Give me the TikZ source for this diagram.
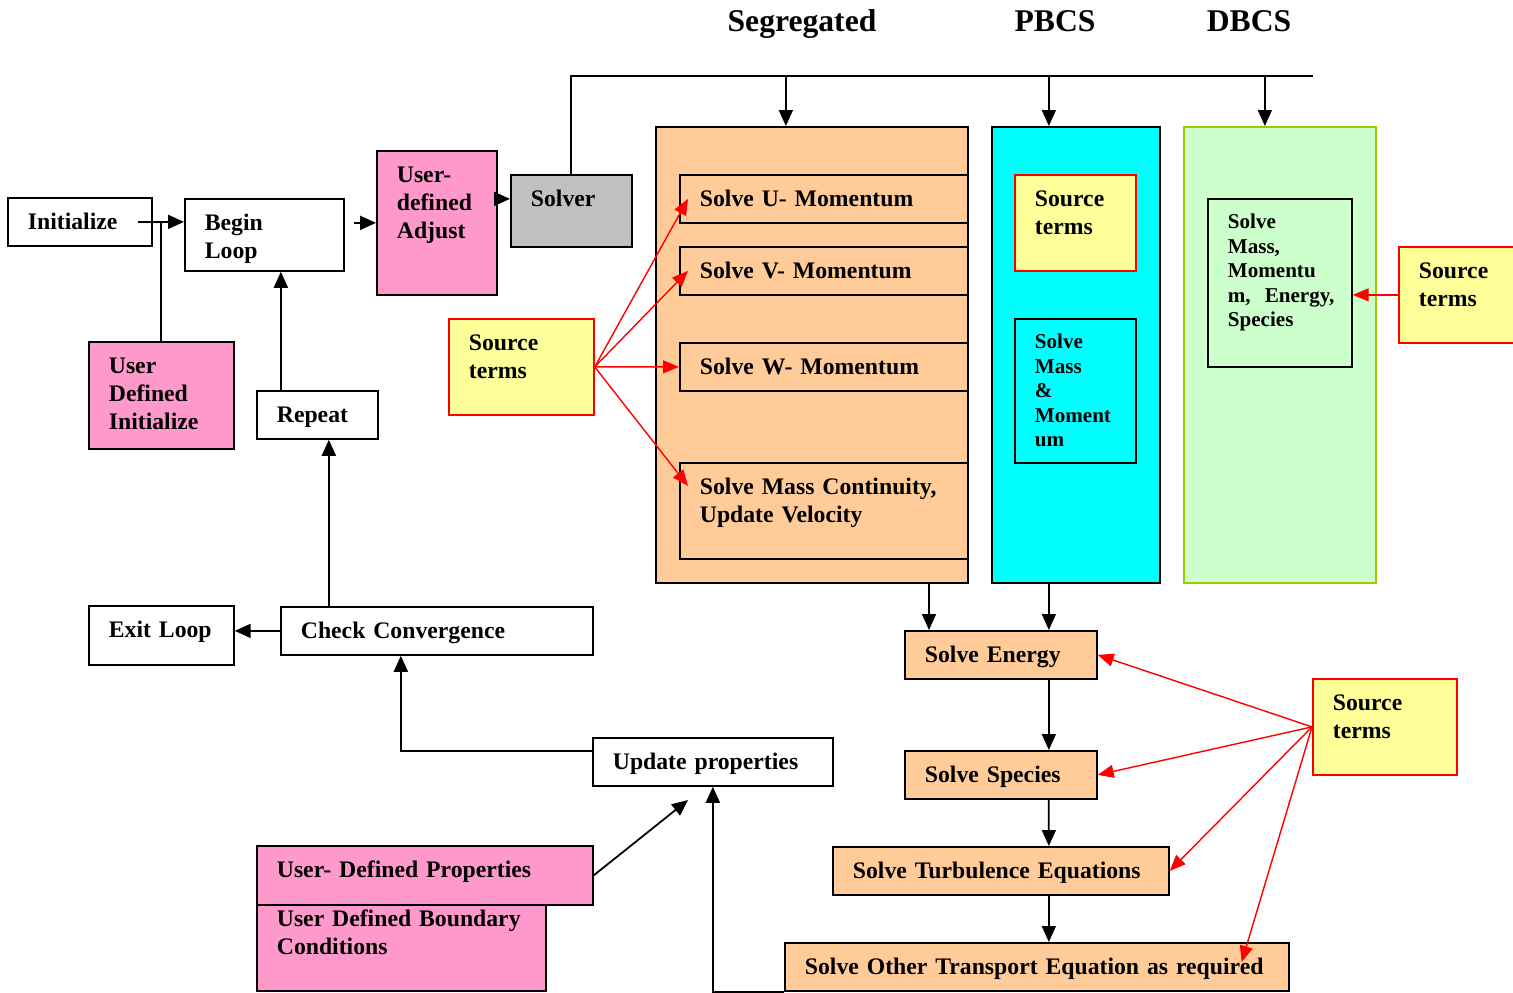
\documentclass[tikz,border=0pt]{standalone}
\usepackage{fontspec}
\setmainfont{Liberation Serif}
\usetikzlibrary{shapes, arrows.meta}
\definecolor{pinkbox}{HTML}{FF99CC}
\definecolor{solvergray}{HTML}{C0C0C0}
\definecolor{srcyellow}{HTML}{FFFF99}
\definecolor{segorange}{HTML}{FFCC99}
\definecolor{pbcyan}{HTML}{00FFFF}
\definecolor{dbgreen}{HTML}{CCFFCC}
\definecolor{dbborder}{HTML}{99CC00}
\tikzstyle{box} = [rectangle, draw=black, line width=1pt, anchor=north west, inner xsep=0.4cm, inner ysep=0pt, text height=0.64cm, font=\bfseries\fontsize{13.5}{15.9}\selectfont]
\tikzstyle{userbox} = [box, fill=pinkbox]
\tikzstyle{srcbox} = [box, fill=srcyellow, draw=red]
\tikzstyle{solvebox} = [box, fill=segorange]
\tikzstyle{smallbox} = [box, text height=0.60cm, font=\bfseries\fontsize{12}{13.9}\selectfont]
\tikzstyle{panel} = [rectangle, draw=black, line width=1pt, anchor=north west, inner sep=0pt, minimum height=9.12cm]
\tikzstyle{heading} = [anchor=base, font=\bfseries\fontsize{18}{22}\selectfont]
\tikzstyle{link} = [line width=1pt]
\tikzstyle{arrow} = [line width=1pt, -{Triangle[length=0.32cm, width=0.28cm]}]
\tikzstyle{redarrow} = [red, line width=0.8pt, -{Triangle[length=0.32cm, width=0.26cm]}]

\begin{document}
\begin{tikzpicture}[x=0.02cm, y=-0.02cm, align=left]
    \useasboundingbox (0,0) rectangle (1513,992);

    % solver families
    \node (hseg) [heading] at (802,31) {Segregated};
    \node (hpbcs) [heading] at (1055,31) {PBCS};
    \node (hdbcs) [heading] at (1249,31) {DBCS};

    % start of the loop
    \node (init) [box, text width=2.08cm, text depth=0.32cm] at (7,197) {Initialize};
    \node (loop) [box, text width=2.38cm, text depth=0.80cm] at (184,198) {Begin\\Loop};
    \node (adjust) [userbox, text width=1.60cm, text depth=2.24cm] at (376,150) {User-\\defined\\Adjust};
    \node (solver) [box, fill=solvergray, text width=1.62cm, text depth=0.80cm] at (510,174) {Solver};
    \node (udinit) [userbox, text width=2.10cm, text depth=1.50cm] at (88,341) {User\\Defined\\Initialize};
    \node (repeat) [box, text width=1.62cm, text depth=0.32cm] at (256,390) {Repeat};
    \node (srcA) [srcbox, text width=2.10cm, text depth=1.28cm] at (448,318) {Source\\terms};

    % segregated
    \node (seg) [panel, fill=segorange, minimum width=6.24cm] at (655,126) {};
    \node (solveU) [solvebox, text width=4.96cm, text depth=0.32cm] at (679,174) {Solve U- Momentum};
    \node (solveV) [solvebox, text width=4.96cm, text depth=0.32cm] at (679,246) {Solve V- Momentum};
    \node (solveW) [solvebox, text width=4.96cm, text depth=0.32cm] at (679,342) {Solve W- Momentum};
    \node (solveP) [solvebox, text width=4.96cm, text depth=1.28cm] at (679,462) {Solve Mass Continuity,\\Update Velocity};

    % pressure based coupled
    \node (pbcs) [panel, fill=pbcyan, minimum width=3.36cm] at (991,126) {};
    \node (srcB) [srcbox, text width=1.62cm, text depth=1.28cm] at (1014,174) {Source\\terms};
    \node (pbsolve) [smallbox, fill=pbcyan, text width=1.62cm, text depth=2.28cm] at (1014,318) {Solve\\Mass\\\&\\Moment\\um};

    % density based coupled
    \node (dbcs) [panel, fill=dbgreen, draw=dbborder, minimum width=3.84cm] at (1183,126) {};
    \node (dbsolve) [smallbox, fill=dbgreen, text width=2.08cm, text depth=2.76cm] at (1207,198) {Solve\\Mass,\\Momentu\\\mbox{m,~~Energy,}\\Species};
    \node (srcC) [srcbox, text width=2.10cm, text depth=1.28cm] at (1398,246) {Source\\terms};

    % convergence and properties
    \node (chk) [box, text width=5.44cm, text depth=0.32cm] at (280,606) {Check Convergence};
    \node (exit) [box, text width=2.10cm, text depth=0.54cm] at (88,605) {Exit Loop};
    \node (upd) [box, text width=4.00cm, text depth=0.32cm] at (592,737) {Update properties};
    \node (udprop) [userbox, text width=5.92cm, text depth=0.54cm] at (256,845) {User- Defined Properties};
    \node (udbc) [userbox, text width=4.98cm, text height=0.44cm, text depth=1.28cm] at (256,904) {User Defined Boundary\\Conditions};
    \coordinate (propend) at (688,800);

    % remaining equations
    \node (energy) [solvebox, text width=3.04cm, text depth=0.32cm] at (904,630) {Solve Energy};
    \node (species) [solvebox, text width=3.04cm, text depth=0.32cm] at (904,750) {Solve Species};
    \node (turb) [solvebox, text width=5.92cm, text depth=0.32cm] at (832,846) {Solve Turbulence Equations};
    \node (other) [solvebox, text width=9.28cm, text depth=0.32cm] at (784,942) {Solve Other Transport Equation as required};
    \node (srcD) [srcbox, text width=2.08cm, text depth=1.28cm] at (1312,678) {Source\\terms};
    \coordinate (busend) at (1313,76);

    \draw [arrow] ([xshift=-0.3cm]init.east) -- (loop.west |- init.east);
    \draw [link] (udinit.north) -- (udinit.north |- init.east);
    \draw [arrow] ([xshift=0.18cm]loop.east |- adjust.west) -- (adjust.west);
    \draw [arrow] ([yshift=0.48cm]adjust.east) -- ([yshift=0.48cm]adjust.east -| solver.west);
    \draw [arrow] ([xshift=-0.73cm]repeat.north) -- ([xshift=-0.73cm]repeat.north |- loop.south);
    \draw [arrow] ([xshift=0.23cm]repeat.south |- chk.north) -- ([xshift=0.23cm]repeat.south);
    \draw [arrow] (chk.west) -- (chk.west -| exit.east);
    \draw [arrow] ([yshift=0.22cm]upd.west) -| ([xshift=-0.72cm]chk.south);
    \draw [arrow] (udprop.east) -- (propend);
    \draw [arrow] (other.south west) -| (upd.south);

    % solver bus
    \draw [link] (solver.north) |- (busend);
    \draw [arrow] ([xshift=-0.52cm]seg.north |- busend) -- ([xshift=-0.52cm]seg.north);
    \draw [arrow] ([xshift=-0.54cm]pbcs.north |- busend) -- ([xshift=-0.54cm]pbcs.north);
    \draw [arrow] ([xshift=-0.30cm]dbcs.north |- busend) -- ([xshift=-0.30cm]dbcs.north);

    \draw [arrow] ([xshift=0.5cm]energy.north west |- seg.south) -- ([xshift=0.5cm]energy.north west);
    \draw [arrow] ([xshift=-0.54cm]pbcs.south) -- ([xshift=-0.54cm]pbcs.south |- energy.north);
    \draw [arrow] ([xshift=0.96cm]energy.south) -- ([xshift=0.96cm]species.north);
    \draw [arrow] ([xshift=0.96cm]species.south) -- ([xshift=0.96cm]turb.north);
    \draw [arrow] ([xshift=0.96cm]turb.south) -- ([xshift=0.96cm]turb.south |- other.north);

    % source terms
    \draw [redarrow] (srcA.east) -- ([xshift=0.18cm]solveU.west);
    \draw [redarrow] (srcA.east) -- ([xshift=0.18cm]solveV.west);
    \draw [redarrow] (srcA.east) -- (solveW.west);
    \draw [redarrow] (srcA.east) -- ([shift={(0.18cm,-0.48cm)}]solveP.north west);
    \draw [redarrow] (srcC.west) -- (srcC.west -| dbsolve.east);
    \draw [redarrow] (srcD.west) -- (energy.east);
    \draw [redarrow] (srcD.west) -- (species.east);
    \draw [redarrow] (srcD.west) -- (turb.east);
    \draw [redarrow] (srcD.west) -- ([shift={(-0.96cm,-0.4cm)}]other.north east);
\end{tikzpicture}
\end{document}
